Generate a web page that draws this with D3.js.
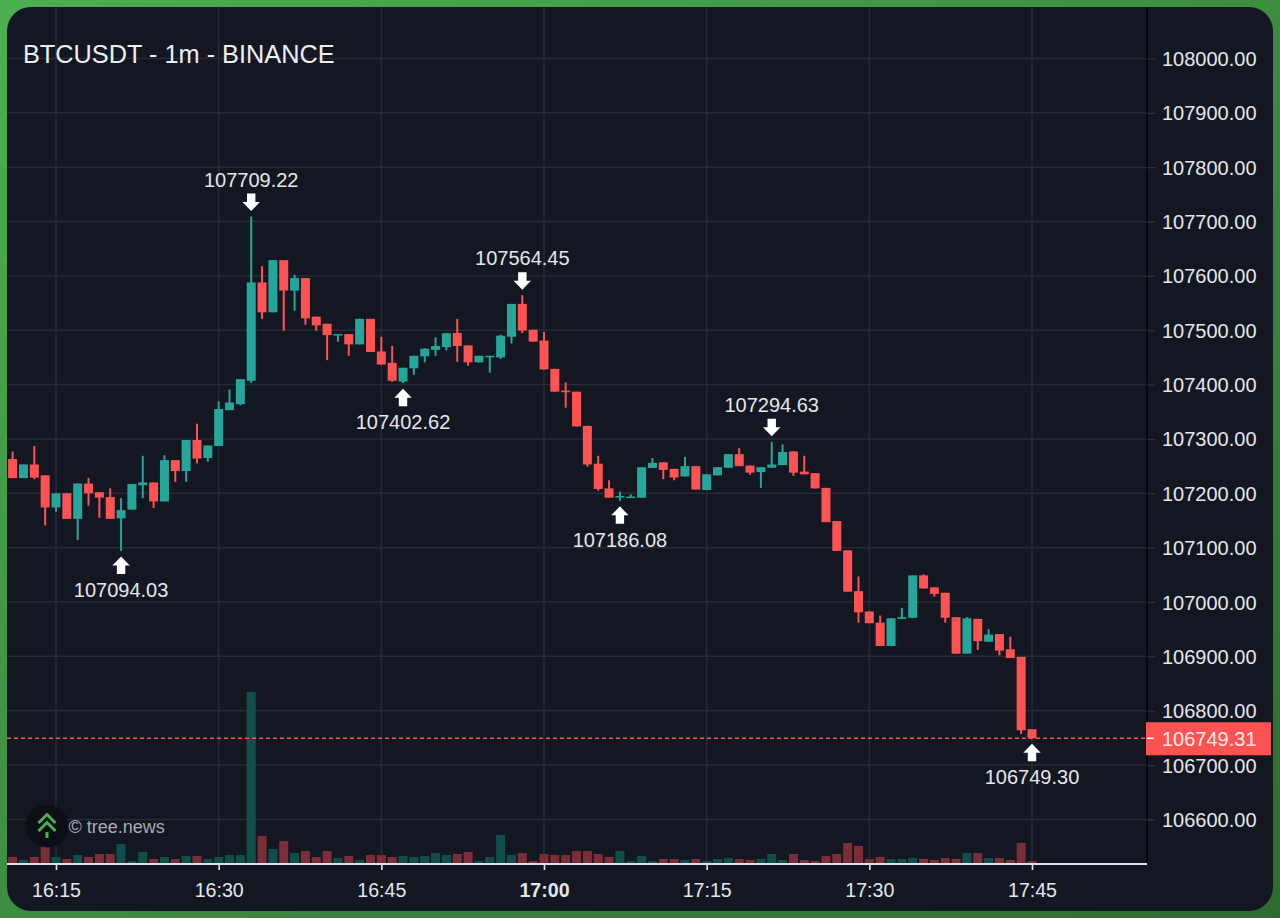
<!DOCTYPE html>
<html><head><meta charset="utf-8">
<script src="https://cdn.jsdelivr.net/npm/d3@7/dist/d3.min.js"></script>
<style>html,body{margin:0;padding:0;background:#3f9444}svg{display:block}text{font-family:"Liberation Sans",Arial,sans-serif}</style>
</head><body><div id="chart"></div>
<script>
const title = "BTCUSDT - 1m - BINANCE";
const watermark = "© tree.news";
const firstMinute = "16:11";
const opens = [107263,107228,107253,107233,107174,107200,107153,107218,107202,107193,
107154,107170,107215,107220,107185,107261,107241,107298,107265,107287,
107353,107364,107407,107588,107533,107629,107573,107596,107525,107512,
107491,107493,107474,107521,107461,107440,107405.6,107430,107452,107464,
107469,107495,107472,107441,107451,107450,107488,107548.5,107501,107481,
107429,107389,107387,107324,107254.5,107209,107193,107193,107192,107246.5,
107257,107245,107231,107250,107206,107233,107247,107272,107251,107239,
107247,107252,107277,107240,107237,107210,107149,107095,107020,106982.5,
106962,106919,106969,106971,107049,107027,107017,106972,106905,106969,
106927,106941,106913,106899,106766];
const closes = [107228,107253,107229,107174,107200,107153,107218,107200,107192,107153,
107169,107217,107220,107185,107261,107241,107298,107264,107288,107355,
107367,107410,107588,107533,107629,107573,107596,107522,107509,107491,
107493,107474,107521,107460,107437,107407,107431,107453,107466,107471,
107494.5,107471,107441,107453,107453,107490,107548.5,107499.5,107479,107428,
107387,107386,107323,107253,107208,107192,107195,107194,107248,107256,
107243,107229,107250,107207,107235,107248,107272,107250,107238,107248,
107253,107276,107238,107235,107209,107147,107094,107019,106981,106961,
106919,106970,106972,107049,107025,107015,106971,106905,106970,106928,
106940,106910.5,106897,106764,106749.31];
const highs = [107277,107253,107287,107233,107200,107200,107218,107228,107202,107209,
107191,107217,107269,107220,107270,107261,107298,107328,107288,107369,
107391,107410,107709.22,107618,107629,107629,107602,107596,107525,107512,
107493,107493,107521,107521,107488,107471,107431,107453,107467,107487,
107495,107521,107472,107453,107453,107492,107548.5,107564.45,107501,107497,
107429,107404,107387,107324,107269,107224,107203,107198,107248,107265,
107257,107245,107267,107250,107235,107248,107272,107283,107251,107248,
107294.63,107290,107277,107269,107237,107210,107149,107095,107047,106982.5,
106975,106970,106989,107049,107051,107027,107017,106972,106972,106969,
106950,106941,106936,106899,106766];
const lows = [107228,107228,107226,107141,107166,107153,107114,107177,107155,107153,
107094.03,107170,107191,107173,107185,107221,107221,107255,107258,107287,
107353,107362,107403,107521,107533,107499,107536,107510,107499,107445,
107479,107453,107474,107460,107437,107405,107402.62,107418,107441,107453,
107463,107442,107434.5,107441,107422,107447,107475.5,107495,107479,107428,
107387,107357.5,107323,107249,107205,107192,107186.08,107192,107192,107246.5,
107226,107224,107231,107207,107206,107233,107247,107250,107234,107210,
107247,107252,107232,107235,107209,107147,107094,107019,106962,106961,
106919,106919,106969,106971,107025,107010,106962,106905,106905,106912,
106927,106902,106897,106757,106749.30];
const volumes = [6,3,6,16,6,4,8,6,9,9,19,2,11,4,6,4,7,7,4,6,8,8,171,27,14,22,10,12,6,
12,5,7,3,8,8,6,7,6,7,10,8,9,11,2,6,28,8,10,2,9,8,8,12,12,9,6,12,2,7,2,4,4,3,4,
2,4,5,4,3,4,9,3,9,3,2,7,9,20,17,4,6,4,4,5,4,3,5,4,10,10,5,5,3,20,2];
const priceTicks = [106600,106700,106800,106900,107000,107100,107200,107300,107400,107500,107600,107700,107800,107900,108000];
const timeTickLabels = ["16:15","16:30","16:45","17:00","17:15","17:30","17:45"];
const boldTimeLabels = ["17:00"];
const lastPrice = 106749.31;
const highMarkers = [22,47,70];
const lowMarkers = [10,36,56,94];

const W=1280,H=918,L=7,R=1147,T=7,B=864,PR=1273,PB=911;
const parseT=d3.timeParse("%H:%M"), fmtT=d3.timeFormat("%H:%M");
const t0=parseT(firstMinute);
const timeOf=i=>d3.timeMinute.offset(t0,i);
const x=d3.scaleTime().domain([parseT("16:15"),parseT("17:45")]).range([56,1032]);
const y=d3.scaleLinear().domain([106600,108000]).range([819.4,58.5]);
const yVol=d3.scaleLinear().domain([0,171]).range([863,692]);
const UP="#26a69a",DOWN="#ff5252",VUP="#0f4f4b",VDOWN="#7b2e38",GRID="#272b35",TXT="#e4e6ea";
const idx=d3.range(opens.length);

const svg=d3.select("#chart").append("svg").attr("width",W).attr("height",H);
const defs=svg.append("defs");
const g=defs.append("linearGradient").attr("id","bg").attr("x1",0).attr("y1",0).attr("x2",1).attr("y2",1);
g.append("stop").attr("offset",0).attr("stop-color","#4caf50");
g.append("stop").attr("offset",1).attr("stop-color","#2e6b31");
defs.append("clipPath").attr("id","panel").append("rect").attr("x",L).attr("y",T).attr("width",PR-L).attr("height",PB-T).attr("rx",24);
defs.append("clipPath").attr("id","plot").append("rect").attr("x",L).attr("y",T).attr("width",R-L).attr("height",B-T);

svg.append("rect").attr("width",W).attr("height",H).attr("fill","url(#bg)");
svg.append("rect").attr("x",L).attr("y",T).attr("width",PR-L).attr("height",PB-T).attr("rx",24).attr("fill","#131722");

const root=svg.append("g").attr("clip-path","url(#panel)");
const plot=root.append("g").attr("clip-path","url(#plot)");

// grid
const timeTicks=timeTickLabels.map(parseT);
plot.append("g").selectAll("line").data(priceTicks).join("line")
 .attr("x1",L).attr("x2",R).attr("y1",d=>y(d)).attr("y2",d=>y(d)).attr("stroke",GRID).attr("stroke-width",1.5);
plot.append("g").selectAll("line").data(timeTicks).join("line")
 .attr("x1",d=>x(d)).attr("x2",d=>x(d)).attr("y1",T).attr("y2",B).attr("stroke",GRID).attr("stroke-width",1.5);

// volume
const bw=9;
plot.append("g").selectAll("rect").data(idx).join("rect")
 .attr("x",i=>x(timeOf(i))-bw/2).attr("width",bw)
 .attr("y",i=>yVol(volumes[i])).attr("height",i=>yVol(0)-yVol(volumes[i]))
 .attr("fill",i=>closes[i]>=opens[i]?VUP:VDOWN);

// last price line
plot.append("line").attr("x1",L).attr("x2",R).attr("y1",y(lastPrice)).attr("y2",y(lastPrice))
 .attr("stroke",DOWN).attr("stroke-width",1.5).attr("stroke-dasharray","4 3");

// candles
const color=i=>closes[i]>=opens[i]?UP:DOWN;
plot.append("g").selectAll("line").data(idx).join("line")
 .attr("x1",i=>x(timeOf(i))).attr("x2",i=>x(timeOf(i)))
 .attr("y1",i=>y(highs[i])).attr("y2",i=>y(lows[i]))
 .attr("stroke",color).attr("stroke-width",2);
plot.append("g").selectAll("rect").data(idx).join("rect")
 .attr("x",i=>x(timeOf(i))-bw/2).attr("width",bw)
 .attr("y",i=>y(Math.max(opens[i],closes[i])))
 .attr("height",i=>Math.max(1.5,Math.abs(y(opens[i])-y(closes[i]))))
 .attr("fill",color);

// price axis
const axY=root.append("g").attr("transform",`translate(${R},0)`)
 .call(d3.axisRight(y).tickValues(priceTicks).tickSize(8).tickPadding(7).tickFormat(d3.format(".2f")));
axY.select(".domain").attr("d",`M0,${T}V${B}`).attr("stroke","#05060a").attr("stroke-width",1.8);
axY.selectAll(".tick line").attr("stroke","#30343e").attr("stroke-width",1.2);
axY.selectAll(".tick text").attr("font-size",20).attr("fill",TXT).style("font-family",'"Liberation Sans"').attr("dy","0.35em");

// time axis
const axX=root.append("g").attr("transform",`translate(0,${B})`)
 .call(d3.axisBottom(x).tickValues(timeTicks).tickSize(6).tickPadding(13).tickFormat(fmtT));
axX.select(".domain").attr("d",`M${L},0H${R}`).attr("stroke","#dfe1e6").attr("stroke-width",2);
axX.selectAll(".tick line").attr("stroke","#dfe1e6").attr("stroke-width",1.6);
axX.selectAll(".tick text").attr("font-size",19.6).attr("fill",TXT).style("font-family",'"Liberation Sans"')
 .attr("font-weight",d=>boldTimeLabels.includes(fmtT(d))?700:400);

// last price label
const ly=y(lastPrice);
root.append("rect").attr("x",R-1).attr("y",ly-16).attr("width",125).attr("height",33).attr("fill",DOWN);
root.append("line").attr("x1",R).attr("x2",R+7).attr("y1",ly).attr("y2",ly).attr("stroke","#fff").attr("stroke-width",1.4);
root.append("text").attr("x",R+15).attr("y",ly+1).attr("dy","0.36em").attr("font-size",20).attr("fill","#ffe9e9").text(lastPrice.toFixed(2));

// arrow markers
const arrow="M0,0L8.7,9H4.2V17.5H-4.2V9H-8.7Z";
root.append("g").selectAll("path").data(lowMarkers).join("path")
 .attr("d",arrow).attr("fill","#fff").attr("transform",i=>`translate(${x(timeOf(i))},${y(lows[i])+5.5})`);
root.append("g").selectAll("path").data(highMarkers).join("path")
 .attr("d",arrow).attr("fill","#fff").attr("transform",i=>`translate(${x(timeOf(i))},${y(highs[i])-5.5}) scale(1,-1)`);
root.append("g").selectAll("text").data(lowMarkers).join("text")
 .attr("x",i=>x(timeOf(i))).attr("y",i=>y(lows[i])+39).attr("dy","0.36em").attr("text-anchor","middle")
 .attr("font-size",20).attr("fill",TXT).text(i=>lows[i].toFixed(2));
root.append("g").selectAll("text").data(highMarkers).join("text")
 .attr("x",i=>x(timeOf(i))).attr("y",i=>y(highs[i])-37).attr("dy","0.36em").attr("text-anchor","middle")
 .attr("font-size",20).attr("fill",TXT).text(i=>highs[i].toFixed(2));

// title
root.append("text").attr("x",23).attr("y",54).attr("dy","0.36em").attr("font-size",25.3).attr("fill","#eceef2").text(title);

// watermark
const wm=root.append("g").attr("transform","translate(47,826)");
wm.append("circle").attr("r",21.5).attr("fill","#0c0f16");
const chev=wm.append("g").attr("fill","none").attr("stroke","#4caf50").attr("stroke-width",3);
chev.append("path").attr("d","M-8.5,-3L0,-11.5L8.5,-3");
chev.append("path").attr("d","M-8.5,5L0,-3.5L8.5,5");
chev.append("path").attr("d","M0,6V12");
root.append("text").attr("x",68.5).attr("y",827).attr("dy","0.36em").attr("font-size",18).attr("fill","#a7aab2").text(watermark);
</script></body></html>
